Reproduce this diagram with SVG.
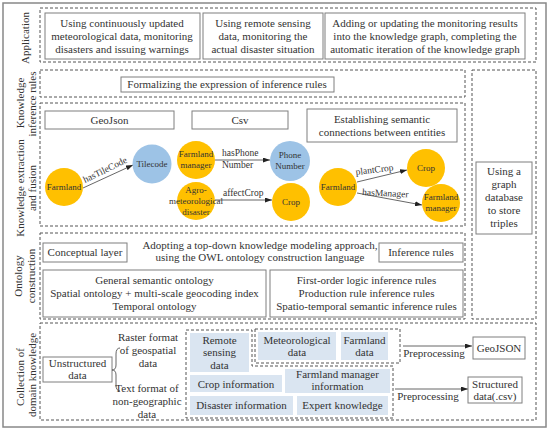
<svg xmlns="http://www.w3.org/2000/svg" width="550" height="431" viewBox="0 0 550 431">
<style>
text{font-family:"Liberation Serif","Times New Roman",serif;fill:#333;font-size:11px;text-anchor:middle}
.sec{fill:none;stroke:#555;stroke-width:1;stroke-dasharray:3,2}
.box{fill:#fff;stroke:#7f7f7f;stroke-width:1}
.blue{fill:#dae5f1;stroke:none}
.or{fill:#ffc000;stroke:none}
.bl{fill:#9dc3e6;stroke:none}
.c{font-size:9px}
.e{font-size:9.5px;text-anchor:start}
.edge{fill:none;stroke:#404040;stroke-width:0.8;marker-end:url(#ah)}
</style>
<defs>
<marker id="ah" markerUnits="userSpaceOnUse" markerWidth="7" markerHeight="5" refX="7" refY="2.5" orient="auto">
<path d="M0,0 L7,2.5 L0,5 z" fill="#222"/>
</marker>
</defs>
<rect width="550" height="431" fill="#fff"/>
<rect x="3" y="3" width="543" height="424" fill="none" stroke="#888" stroke-width="1.5"/>

<!-- left labels -->
<g id="labels">
<text transform="translate(29,38) rotate(-90)">Application</text>
<text transform="translate(24,103) rotate(-90)">Knowledge</text>
<text transform="translate(36,104) rotate(-90)">inference rules</text>
<text transform="translate(24,188) rotate(-90)">Knowledge extraction</text>
<text transform="translate(36,188) rotate(-90)">and fusion</text>
<text transform="translate(22,276) rotate(-90)">Ontology</text>
<text transform="translate(35,276) rotate(-90)">construction</text>
<text transform="translate(24,377) rotate(-90)">Collection of</text>
<text transform="translate(36,375) rotate(-90)">domain knowledge</text>
</g>

<!-- sections -->
<g id="sections">
<rect class="sec" x="40" y="8" width="496" height="54"/>
<rect class="sec" x="40" y="70" width="425" height="27"/>
<rect class="sec" x="40" y="103" width="425" height="123"/>
<rect class="sec" x="40" y="233" width="425" height="86"/>
<rect class="sec" x="472" y="70" width="64" height="249"/>
<rect class="sec" x="40" y="323" width="496" height="97"/>
</g>

<!-- Application -->
<g id="app1"><rect class="box" x="45" y="13" width="155" height="46"/>
<text x="122" y="27">Using continuously updated</text>
<text x="122" y="40">meteorological data, monitoring</text>
<text x="122" y="53">disasters and issuing warnings</text></g>
<g id="app2"><rect class="box" x="203" y="13" width="120" height="46"/>
<text x="263" y="27">Using remote sensing</text>
<text x="263" y="40">data, monitoring the</text>
<text x="263" y="53">actual disaster situation</text></g>
<g id="app3"><rect class="box" x="325" y="13" width="200" height="46"/>
<text x="425" y="27">Adding or updating the monitoring results</text>
<text x="425" y="40">into the knowledge graph, completing the</text>
<text x="425" y="53">automatic iteration of the knowledge graph</text></g>

<!-- inference rules -->
<g id="formalize"><rect class="box" x="121" y="77" width="213" height="15"/>
<text x="227" y="88">Formalizing the expression of inference rules</text></g>

<!-- graph db -->
<g id="graphdb"><rect class="box" x="476" y="162" width="56" height="72"/>
<text x="504" y="175">Using a</text>
<text x="504" y="188">graph</text>
<text x="504" y="201">database</text>
<text x="504" y="214">to store</text>
<text x="504" y="227">triples</text></g>

<!-- extraction -->
<g id="geojson"><rect class="box" x="45" y="111" width="129" height="18"/><text x="109.5" y="124">GeoJson</text></g>
<g id="csv"><rect class="box" x="192" y="111" width="96" height="18"/><text x="240" y="124">Csv</text></g>
<g id="semantic"><rect class="box" x="307" y="109" width="150" height="33"/>
<text x="382" y="123">Establishing semantic</text>
<text x="382" y="136">connections between entities</text></g>

<g id="edges">
<path class="edge" d="M83,188 L133,165"/>
<path class="edge" d="M215,160 L270,160"/>
<path class="edge" d="M215,200 L272,200"/>
<path class="edge" d="M357,182 L407,170"/>
<path class="edge" d="M357,193 L422,205"/>
<text class="e" transform="translate(85,183) rotate(-26)">hasTileCode</text>
<text class="e" x="222" y="156">hasPhone</text>
<text class="e" x="222" y="168">Number</text>
<text class="e" x="223" y="196">affectCrop</text>
<text class="e" transform="translate(356,175) rotate(-7)">plantCrop</text>
<text class="e" transform="translate(362,195) rotate(3)">hasManager</text>
<path class="edge" d="M403,346 L472,346"/>
<path class="edge" d="M395,389 L468,389"/>
<text x="434" y="357">Preprocessing</text>
<text x="428" y="400">Preprocessing</text>
</g>

<g id="farmland1"><circle class="or" cx="64" cy="187" r="19"/><text class="c" x="64" y="190">Farmland</text></g>
<g id="tilecode"><circle class="bl" cx="152" cy="164" r="19.5"/><text class="c" x="152" y="167">Tilecode</text></g>
<g id="fmanager1"><circle class="or" cx="196" cy="160" r="19"/><text class="c" x="196" y="157">Farmland</text><text class="c" x="196" y="168">manager</text></g>
<g id="agro"><circle class="or" cx="196" cy="201" r="19"/><text class="c" x="196" y="193">Agro-</text><text class="c" x="196" y="204">meteorological</text><text class="c" x="196" y="215">disaster</text></g>
<g id="phone"><circle class="bl" cx="290" cy="161" r="20"/><text class="c" x="290" y="158">Phone</text><text class="c" x="290" y="169">Number</text></g>
<g id="crop1"><circle class="or" cx="291" cy="202" r="19"/><text class="c" x="291" y="205">Crop</text></g>
<g id="farmland2"><circle class="or" cx="338" cy="187" r="19"/><text class="c" x="338" y="190">Farmland</text></g>
<g id="crop2"><circle class="or" cx="426" cy="168" r="19"/><text class="c" x="426" y="171">Crop</text></g>
<g id="fmanager2"><circle class="or" cx="441" cy="203" r="19"/><text class="c" x="441" y="200">Farmland</text><text class="c" x="441" y="211">manager</text></g>

<!-- ontology -->
<g id="conceptual"><rect class="box" x="43" y="243" width="84" height="19"/><text x="85" y="256">Conceptual layer</text></g>
<g id="adopting"><text x="260" y="249">Adopting a top-down knowledge modeling approach,</text>
<text x="260" y="261">using the OWL ontology construction language</text></g>
<g id="infrules"><rect class="box" x="379" y="243" width="84" height="19"/><text x="421" y="256">Inference rules</text></g>
<g id="ontologies"><rect class="box" x="43" y="270" width="223" height="47"/>
<text x="154.5" y="284">General semantic ontology</text>
<text x="154.5" y="297">Spatial ontology + multi-scale geocoding index</text>
<text x="154.5" y="310">Temporal ontology</text></g>
<g id="rules"><rect class="box" x="270" y="270" width="193" height="47"/>
<text x="366.5" y="284">First-order logic inference rules</text>
<text x="366.5" y="297">Production rule inference rules</text>
<text x="366.5" y="310">Spatio-temporal semantic inference rules</text></g>

<!-- collection -->
<g id="unstructured"><rect class="box" x="43" y="357" width="69" height="25"/>
<text x="77.5" y="367">Unstructured</text><text x="77.5" y="379">data</text></g>
<path d="M120,348 Q116,348 116,354 L116,365 Q116,370 112,370 Q116,370 116,375 L116,385 Q116,391 120,391" fill="none" stroke="#555" stroke-width="0.9"/>
<g id="raster"><text x="148" y="341">Raster format</text><text x="148" y="354">of geospatial</text><text x="148" y="367">data</text></g>
<g id="textformat"><text x="147" y="392">Text format of</text><text x="147" y="405">non-geographic</text><text x="147" y="418">data</text></g>
<path class="sec" d="M186,330 H252 V366 H393 V418 H186 Z"/>
<rect class="sec" x="255" y="329" width="145" height="34"/>
<g id="remote"><rect class="blue" x="190" y="333" width="59" height="39"/>
<text x="219.5" y="344">Remote</text><text x="219.5" y="356">sensing</text><text x="219.5" y="369">data</text></g>
<g id="meteo"><rect class="blue" x="258" y="332" width="78" height="28"/>
<text x="297" y="344">Meteorological</text><text x="297" y="356">data</text></g>
<g id="farmdata"><rect class="blue" x="341" y="332" width="47" height="28"/>
<text x="364.5" y="344">Farmland</text><text x="364.5" y="356">data</text></g>
<g id="cropinfo"><rect class="blue" x="190" y="375" width="92" height="17"/><text x="236" y="388">Crop information</text></g>
<g id="fminfo"><rect class="blue" x="285" y="369" width="105" height="24"/>
<text x="337.5" y="378">Farmland manager</text><text x="337.5" y="390">information</text></g>
<g id="disaster"><rect class="blue" x="190" y="396" width="103" height="19"/><text x="241.5" y="409">Disaster information</text></g>
<g id="expert"><rect class="blue" x="297" y="396" width="91" height="19"/><text x="342.5" y="409">Expert knowledge</text></g>
<g id="geojsonout"><rect class="box" x="473" y="337" width="52" height="22"/><text x="499" y="352">GeoJSON</text></g>
<g id="structured"><rect class="box" x="468" y="377" width="54" height="26"/>
<text x="495" y="388">Structured</text><text x="495" y="400">data(.csv)</text></g>
</svg>
